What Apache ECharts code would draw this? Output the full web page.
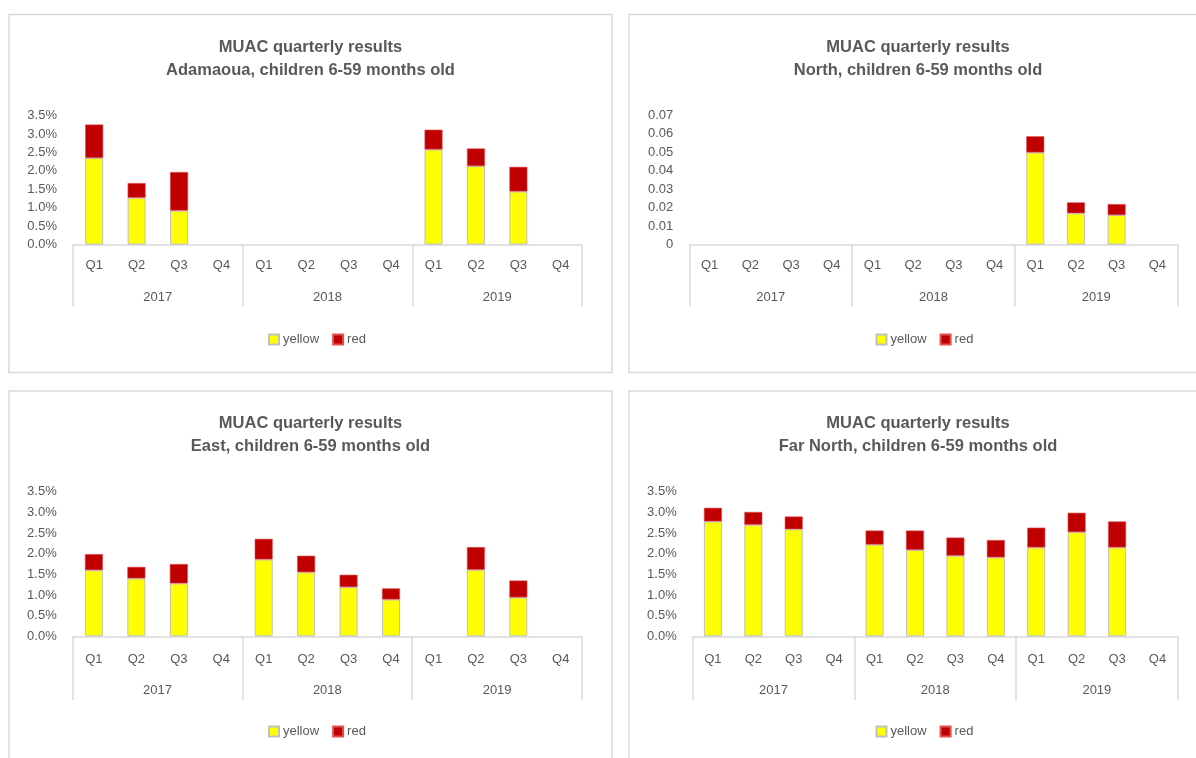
<!DOCTYPE html>
<html>
<head>
<meta charset="utf-8">
<script src="https://cdn.jsdelivr.net/npm/echarts@6/dist/echarts.min.js"></script>
<style>
html, body { margin: 0; padding: 0; background: #ffffff; }
#main { width: 1196px; height: 758px; }
</style>
</head>
<body>
<div id="main"></div>
<script>
// Category labels: quarters nested under years
const quarters = ['Q1', 'Q2', 'Q3', 'Q4', 'Q1', 'Q2', 'Q3', 'Q4', 'Q1', 'Q2', 'Q3', 'Q4'];
const years = ['2017', '2018', '2019'];
const seriesNames = ['yellow', 'red'];

// MUAC screening shares per quarter (fractions); null = no data
const adamaouaYellow = [0.0235, 0.0127, 0.0092, null, null, null, null, null, 0.0258, 0.0213, 0.0144, null];
const adamaouaRed    = [0.0091, 0.0040, 0.0105, null, null, null, null, null, 0.0054, 0.0048, 0.0067, null];

const northYellow = [null, null, null, null, null, null, null, null, 0.0498, 0.0169, 0.0159, null];
const northRed    = [null, null, null, null, null, null, null, null, 0.0088, 0.0059, 0.0060, null];

const eastYellow = [0.0160, 0.0140, 0.0128, null, 0.0186, 0.0155, 0.0119, 0.0089, null, 0.0161, 0.0094, null];
const eastRed    = [0.0039, 0.0028, 0.0047, null, 0.0050, 0.0040, 0.0030, 0.0027, null, 0.0055, 0.0041, null];

const farNorthYellow = [0.0278, 0.0270, 0.0259, null, 0.0222, 0.0209, 0.0195, 0.0191, 0.0215, 0.0252, 0.0215, null];
const farNorthRed    = [0.0033, 0.0031, 0.0031, null, 0.0034, 0.0047, 0.0044, 0.0042, 0.0048, 0.0047, 0.0063, null];

// Y axis tick settings
const pctMax = 0.035, pctStep = 0.005;
const decMax = 0.07, decStep = 0.01;

const TEXT = '#595959';
const LINE = '#d9d9d9';
const FONT = '"Liberation Sans", Arial, sans-serif';

const pctFmt = v => (v * 100).toFixed(1) + '%';
const decFmt = v => (Math.abs(v) < 1e-9 ? '0' : v.toFixed(2));

const panels = [
  { region: 'Adamaoua', yellow: adamaouaYellow, red: adamaouaRed, fmt: pctFmt, max: pctMax, step: pctStep,
    box: [9, 14.5, 603, 358], grid: [73, 115.7, 509, 128.8], cx: 310.5, ty: 47, ly: 328, tick: 62, qm: 14, ym: 46 },
  { region: 'North', yellow: northYellow, red: northRed, fmt: decFmt, max: decMax, step: decStep,
    box: [629, 14.5, 620, 358], grid: [689.3, 115.2, 488.4, 129.3], cx: 918, ty: 47, ly: 328, tick: 62, qm: 14, ym: 46 },
  { region: 'East', yellow: eastYellow, red: eastRed, fmt: pctFmt, max: pctMax, step: pctStep,
    box: [9, 391, 603, 420], grid: [72.7, 491.7, 509.3, 144.6], cx: 310.5, ty: 423.5, ly: 720, tick: 64, qm: 17, ym: 48 },
  { region: 'Far North', yellow: farNorthYellow, red: farNorthRed, fmt: pctFmt, max: pctMax, step: pctStep,
    box: [629, 391, 620, 420], grid: [692.7, 491.7, 485, 144.6], cx: 918, ty: 423.5, ly: 720, tick: 64, qm: 17, ym: 48 }
];

const grid = [], xAxis = [], yAxis = [], series = [], legend = [], graphic = [];

panels.forEach((p, i) => {
  graphic.push({
    type: 'rect', z: -10, silent: true,
    shape: { x: p.box[0], y: p.box[1], width: p.box[2], height: p.box[3] },
    style: { fill: 'none', stroke: LINE, lineWidth: 1.5 }
  });
  graphic.push({
    type: 'text', silent: true, x: p.cx, y: p.ty,
    style: { text: 'MUAC quarterly results', align: 'center', verticalAlign: 'middle',
             font: 'bold 16.5px ' + FONT, fill: TEXT }
  });
  graphic.push({
    type: 'text', silent: true, x: p.cx, y: p.ty + 23,
    style: { text: p.region + ', children 6-59 months old', align: 'center', verticalAlign: 'middle',
             font: 'bold 16.5px ' + FONT, fill: TEXT }
  });

  grid.push({ left: p.grid[0], top: p.grid[1], width: p.grid[2], height: p.grid[3] });

  // inner level: quarters
  xAxis.push({
    type: 'category', gridIndex: i, data: quarters, position: 'bottom',
    axisLine: { lineStyle: { color: LINE, width: 1.5 } },
    axisTick: { show: false },
    axisLabel: { interval: 0, color: TEXT, fontSize: 13, fontFamily: FONT, margin: p.qm }
  });
  // outer level: years, with group dividers drawn as long ticks
  xAxis.push({
    type: 'category', gridIndex: i, data: years, position: 'bottom',
    axisLine: { show: false },
    axisTick: { show: true, length: p.tick, lineStyle: { color: LINE, width: 1.5 } },
    axisLabel: { interval: 0, color: TEXT, fontSize: 13, fontFamily: FONT, margin: p.ym }
  });

  yAxis.push({
    type: 'value', gridIndex: i, min: 0, max: p.max, interval: p.step,
    splitLine: { show: false }, axisLine: { show: false }, axisTick: { show: false },
    axisLabel: { color: TEXT, fontSize: 13, fontFamily: FONT, margin: 16, formatter: p.fmt }
  });

  series.push({
    name: seriesNames[0], type: 'bar', xAxisIndex: i * 2, yAxisIndex: i, stack: 'muac' + i,
    barWidth: 18, data: p.yellow,
    itemStyle: { color: '#ffff00', borderColor: '#bfbfbf', borderWidth: 1 }
  });
  series.push({
    name: seriesNames[1], type: 'bar', xAxisIndex: i * 2, yAxisIndex: i, stack: 'muac' + i,
    barWidth: 18, data: p.red,
    itemStyle: { color: '#c00000', borderColor: '#e05050', borderWidth: 0.6 }
  });

  legend.push({
    data: seriesNames, left: p.cx - 47.5, top: p.ly, itemWidth: 10, itemHeight: 10, itemGap: 13,
    icon: 'rect', textStyle: { color: TEXT, fontSize: 13, fontFamily: FONT, padding: [0, 0, 0, -1] }
  });
});

const chart = echarts.init(document.getElementById('main'), null, { renderer: 'canvas' });
chart.setOption({
  animation: false,
  backgroundColor: '#ffffff',
  grid, xAxis, yAxis, series, legend, graphic
});
</script>
</body>
</html>
